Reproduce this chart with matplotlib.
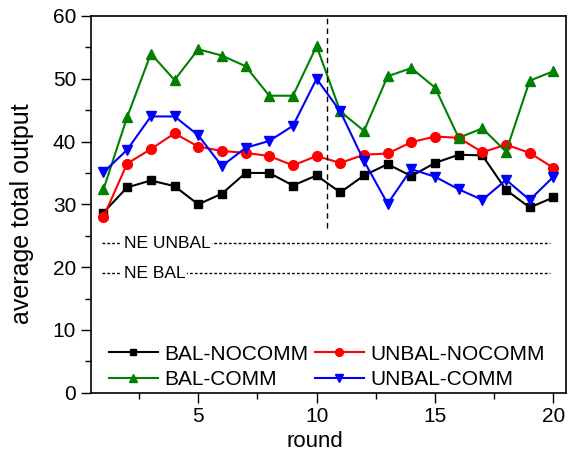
import matplotlib
matplotlib.use('Agg')
import matplotlib.pyplot as plt
from matplotlib.ticker import MultipleLocator

plt.rcParams['font.family'] = ['Liberation Sans', 'DejaVu Sans']

# Data
rounds = list(range(1, 21))
bal_nocomm = [28.7, 32.7, 33.8, 32.9, 30.0, 31.7, 35.0, 35.0, 33.0, 34.6,
              31.9, 34.6, 36.4, 34.5, 36.6, 37.9, 37.8, 32.3, 29.5, 31.1]
unbal_nocomm = [28.0, 36.5, 38.8, 41.3, 39.2, 38.5, 38.2, 37.7, 36.2, 37.7,
                36.6, 37.9, 38.1, 39.9, 40.8, 40.6, 38.3, 39.5, 38.2, 35.8]
bal_comm = [32.4, 43.9, 54.0, 49.8, 54.7, 53.7, 52.0, 47.3, 47.3, 55.2,
            44.8, 41.7, 50.4, 51.7, 48.6, 40.6, 42.1, 38.4, 49.7, 51.2]
unbal_comm = [35.1, 38.7, 44.0, 44.0, 41.0, 36.1, 39.0, 40.1, 42.5, 50.0,
              44.8, 36.9, 30.1, 35.6, 34.4, 32.4, 30.7, 33.9, 30.7, 34.4]

ne_unbal = 23.8
ne_bal = 19.0
split_round = 10.43

fig = plt.figure(figsize=(5.68, 4.53), dpi=100)
ax = fig.add_axes([0.1597, 0.1331, 0.8363, 0.8316])

l1, = ax.plot(rounds, bal_nocomm, color='black', marker='s', ms=6, lw=1.5,
              label='BAL-NOCOMM')
l2, = ax.plot(rounds, unbal_nocomm, color='red', marker='o', ms=7, lw=1.5,
              label='UNBAL-NOCOMM')
l3, = ax.plot(rounds, bal_comm, color='green', marker='^', ms=7.5, lw=1.5,
              label='BAL-COMM')
l4, = ax.plot(rounds, unbal_comm, color='blue', marker='v', ms=7.5, lw=1.5,
              label='UNBAL-COMM')

# Nash equilibrium reference lines
ax.hlines([ne_unbal, ne_bal], 0.95, 19.86, colors='black', lw=1,
          linestyles=[(0, (2, 1.5))])
for yv, txt in [(ne_unbal, 'NE UNBAL'), (ne_bal, 'NE BAL')]:
    ax.text(1.86, yv, txt, fontsize=12.5, va='center', ha='left',
            bbox=dict(facecolor='white', edgecolor='none', pad=1))

# vertical split marker
ax.vlines(split_round, 26.3, 60, colors='black', lw=1, linestyles=[(0, (4, 3))])

ax.set_xlim(0.46, 20.52)
ax.set_ylim(0, 60)
ax.xaxis.set_major_locator(MultipleLocator(5))
ax.xaxis.set_minor_locator(MultipleLocator(2.5))
ax.yaxis.set_major_locator(MultipleLocator(10))
ax.yaxis.set_minor_locator(MultipleLocator(5))
ax.tick_params(which='major', direction='out', length=7, width=1, labelsize=15)
ax.tick_params(which='minor', direction='out', length=4, width=1)
for s in ax.spines.values():
    s.set_linewidth(1.2)

ax.set_xlabel('round', fontsize=16, va='center')
ax.xaxis.set_label_coords(0.471, -0.13)
ax.set_ylabel('average total output', fontsize=18)
ax.yaxis.set_label_coords(-0.12, 0.474)

ax.legend(handles=[l1, l3, l2, l4], ncol=2, loc='lower left',
          bbox_to_anchor=(0.02, -0.012), frameon=False, fontsize=15,
          handlelength=2.35, handletextpad=0.32, columnspacing=0.32,
          labelspacing=0.3, markerscale=0.8, borderaxespad=0)

fig.savefig('out.png', dpi=100)
